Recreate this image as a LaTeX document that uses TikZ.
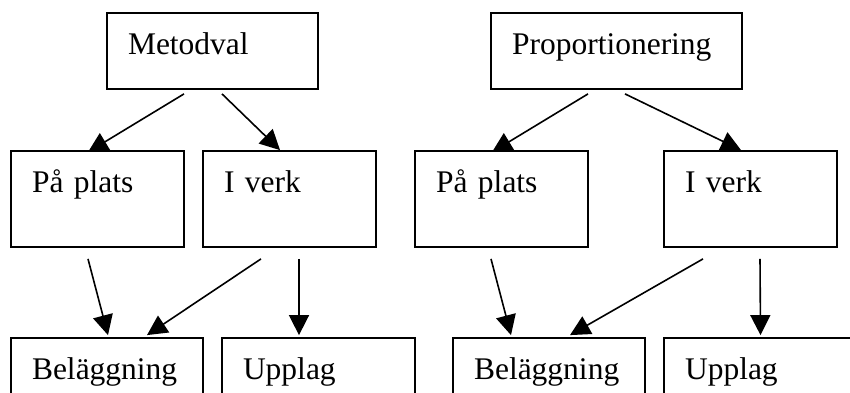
\documentclass[tikz,border=0pt]{standalone}
\usepackage{fontspec}
\setmainfont{Liberation Serif}
\usetikzlibrary{arrows.meta,calc,backgrounds}
\tikzset{
	box/.style={draw,fill=white,rectangle,line width=1.8pt,align=left,inner xsep=21pt,inner ysep=0pt,text height=41pt,font=\fontsize{31.5}{38}\selectfont},
	link/.style={-{Triangle[length=20pt,width=20pt]},line width=1.6pt}
}
\begin{document}
\begin{tikzpicture}[x=1pt,y=-1pt,line join=miter]
	\useasboundingbox (0,0) rectangle (850,392);
	\clip (0,0) rectangle (850,392);
	% left tree
	\node[box,text width=169pt,text depth=35pt] (metod) at (212.5,51) {Metodval};
	\node[box,text width=131pt,text depth=55pt] (lplats) at (97.5,199) {På plats};
	\node[box,text width=131pt,text depth=55pt] (lverk) at (289.5,199) {I verk};
	\node[box,text width=150pt,text depth=55pt] (lbel) at (107,386) {Beläggning};
	\node[box,text width=151pt,text depth=55pt] (lupp) at (318.5,386) {Upplag};
	% right tree
	\node[box,text width=209pt,text depth=35pt] (prop) at (616.5,51) {Proportionering};
	\node[box,text width=131pt,text depth=55pt] (rplats) at (501.5,199) {På plats};
	\node[box,text width=131pt,text depth=55pt] (rverk) at (750.5,199) {I verk};
	\node[box,text width=150pt,text depth=55pt] (rbel) at (549,386) {Beläggning};
	\node[box,text width=151pt,text depth=55pt] (rupp) at (760.5,386) {Upplag};
	\begin{scope}[on background layer]
		\draw[link] ($(metod.south)+(-28.5,4)$) -- ($(lplats.north)+(-9.5,2)$);
		\draw[link] ($(metod.south)+(9.5,4)$) -- ($(lverk.north)+(-9.5,0)$);
		\draw[link] ($(lplats.south)+(-9.5,11)$) -- ($(lbel.north)+(1,-2)$);
		\draw[link] ($(lverk.south)+(-28.5,11)$) -- ($(lbel.north)+(40,-2)$);
		\draw[link] ($(lverk.south)+(9.5,11)$) -- ($(lupp.north)+(-19.5,-2)$);
		\draw[link] ($(prop.south)+(-28.5,4)$) -- ($(rplats.north)+(-9.5,2)$);
		\draw[link] ($(prop.south)+(8.5,4)$) -- ($(rverk.north)+(-9.5,0)$);
		\draw[link] ($(rplats.south)+(-10.5,11)$) -- ($(rbel.north)+(-38,-2)$);
		\draw[link] ($(rverk.south)+(-47.5,11)$) -- ($(rbel.north)+(21,-2)$);
		\draw[link] ($(rverk.south)+(9.5,11)$) -- ($(rupp.north)+(0,-2)$);
	\end{scope}
\end{tikzpicture}
\end{document}
